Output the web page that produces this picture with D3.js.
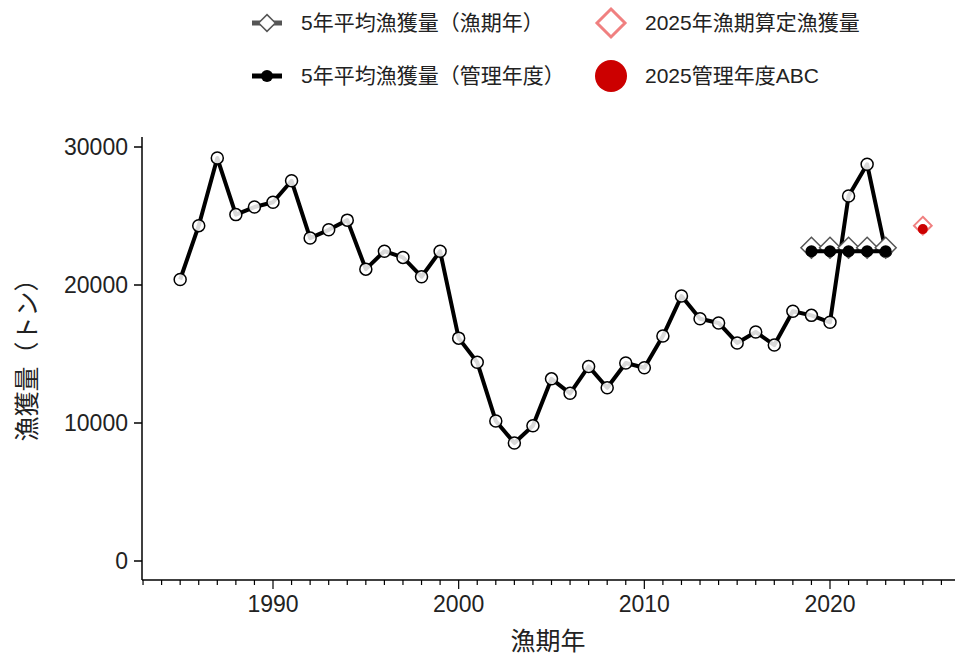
<!DOCTYPE html>
<html><head><meta charset="utf-8">
<script src="https://cdn.jsdelivr.net/npm/d3@7"></script>
<style>body{margin:0;background:#fff}text{font-family:"Liberation Sans","Noto Sans CJK JP",sans-serif;fill:#222}</style>
</head><body><div id="chart"></div>
<script>
// catch by fishing year
const years = d3.range(1985, 2024);
const catchValues = [20400,24300,29200,25100,25650,26000,27550,23400,24000,24700,
  21150,22450,22000,20600,22450,16150,14400,10150,8550,9800,
  13200,12150,14100,12550,14350,14000,16300,19200,17550,17250,
  15800,16600,15650,18100,17800,17300,26450,28750,22450];
const avgYears = [2019,2020,2021,2022,2023];
const avgFishing = 22700;
const avgManage = 22450;
const calcYear = 2025, calcCatch = 24300, abc = 24050;
const yTicks = [0,10000,20000,30000];
const xTicks = [1990,2000,2010,2020];

const W = 955, H = 659;
const svg = d3.select("#chart").append("svg").attr("width", W).attr("height", H);

const x = d3.scaleLinear().domain([1990, 2020]).range([273, 830]);
const y = d3.scaleLinear().domain([0, 30000]).range([561, 147]);
const left = 142, bottom = 580;

// axes
svg.append("line").attr("x1", left).attr("x2", left).attr("y1", 137).attr("y2", bottom).attr("stroke", "#000").attr("stroke-width", 1.5);
svg.append("line").attr("x1", left).attr("x2", W).attr("y1", bottom).attr("y2", bottom).attr("stroke", "#000").attr("stroke-width", 1.5);
yTicks.forEach(t => {
  svg.append("line").attr("x1", left - 8).attr("x2", left).attr("y1", y(t)).attr("y2", y(t)).attr("stroke", "#000").attr("stroke-width", 1.5);
  svg.append("text").attr("x", left - 14).attr("y", y(t)).attr("dy", "0.35em").attr("text-anchor", "end")
    .attr("font-size", 23).text(t);
});
d3.range(1980, 2027).filter(v => x(v) >= left).forEach(v => {
  const major = v % 10 === 0;
  svg.append("line").attr("x1", x(v)).attr("x2", x(v)).attr("y1", bottom).attr("y2", bottom + (major ? 9 : 5))
    .attr("stroke", "#000").attr("stroke-width", 1.2);
});
xTicks.forEach(t => {
  svg.append("text").attr("x", x(t)).attr("y", bottom + 32).attr("text-anchor", "middle").attr("font-size", 23).text(t);
});
svg.append("text").attr("x", 548).attr("y", 650).attr("text-anchor", "middle").attr("font-size", 25).text("漁期年");
svg.append("text").attr("transform", `translate(36,${y(15000)}) rotate(-90)`).attr("text-anchor", "middle").attr("font-size", 25).text("漁獲量（トン）");

// main line
const data = years.map((yr, i) => ({yr, v: catchValues[i]}));
const line = d3.line().x(d => x(d.yr)).y(d => y(d.v));
svg.append("path").datum(data).attr("d", line).attr("fill", "none").attr("stroke", "#000").attr("stroke-width", 4).attr("stroke-linejoin", "round");
svg.selectAll(".pt").data(data).enter().append("circle")
  .attr("cx", d => x(d.yr)).attr("cy", d => y(d.v)).attr("r", 6)
  .attr("fill", "#fff").attr("fill-opacity", 0.85).attr("stroke", "#000").attr("stroke-width", 1.5);

// 5yr averages
const dia = d3.symbol().type(d3.symbolDiamond2);
svg.append("line").attr("x1", x(2019)).attr("x2", x(2023)).attr("y1", y(avgFishing)).attr("y2", y(avgFishing)).attr("stroke", "#555").attr("stroke-width", 4);
avgYears.forEach(yr => {
  svg.append("path").attr("d", dia.size(280)()).attr("transform", `translate(${x(yr)},${y(avgFishing)})`)
    .attr("fill", "#fff").attr("stroke", "#555").attr("stroke-width", 1.5);
});
svg.append("line").attr("x1", x(2019)).attr("x2", x(2023)).attr("y1", y(avgManage)).attr("y2", y(avgManage)).attr("stroke", "#000").attr("stroke-width", 4);
avgYears.forEach(yr => {
  svg.append("circle").attr("cx", x(yr)).attr("cy", y(avgManage)).attr("r", 6).attr("fill", "#000");
});

// 2025
svg.append("path").attr("d", dia.size(200)()).attr("transform", `translate(${x(calcYear)},${y(calcCatch)})`)
  .attr("fill", "#fff").attr("stroke", "#f08080").attr("stroke-width", 2);
svg.append("circle").attr("cx", x(calcYear)).attr("cy", y(abc)).attr("r", 5).attr("fill", "#cc0000");

// legend
const lg = svg.append("g").attr("font-size", 21);
lg.append("line").attr("x1", 252).attr("x2", 282).attr("y1", 23).attr("y2", 23).attr("stroke", "#555").attr("stroke-width", 5);
lg.append("path").attr("d", dia.size(180)()).attr("transform", "translate(267,23)").attr("fill", "#fff").attr("stroke", "#555").attr("stroke-width", 1.5);
lg.append("text").attr("x", 301).attr("y", 23).attr("dy", "0.35em").text("5年平均漁獲量（漁期年）");
lg.append("line").attr("x1", 252).attr("x2", 282).attr("y1", 76).attr("y2", 76).attr("stroke", "#000").attr("stroke-width", 5);
lg.append("circle").attr("cx", 267).attr("cy", 76).attr("r", 6).attr("fill", "#000");
lg.append("text").attr("x", 301).attr("y", 76).attr("dy", "0.35em").text("5年平均漁獲量（管理年度）");
lg.append("path").attr("d", dia.size(500)()).attr("transform", "translate(611,23)").attr("fill", "#fff").attr("stroke", "#f08080").attr("stroke-width", 3);
lg.append("text").attr("x", 645).attr("y", 23).attr("dy", "0.35em").text("2025年漁期算定漁獲量");
lg.append("circle").attr("cx", 611).attr("cy", 76).attr("r", 16).attr("fill", "#cc0000");
lg.append("text").attr("x", 645).attr("y", 76).attr("dy", "0.35em").text("2025管理年度ABC");
</script></body></html>
